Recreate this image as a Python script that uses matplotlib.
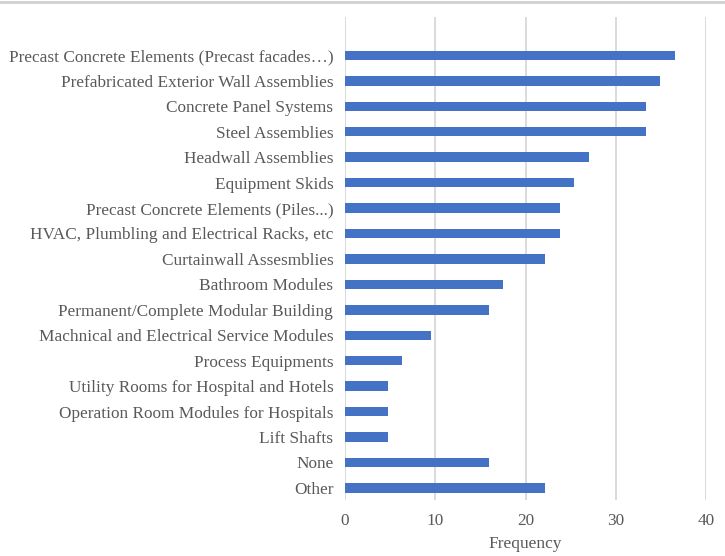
import numpy as np
import matplotlib.pyplot as plt
from matplotlib.lines import Line2D

# Categories listed top to bottom, with frequency (% of respondents)
categories = [
    "Precast Concrete Elements (Precast facades…)",
    "Prefabricated Exterior Wall Assemblies",
    "Concrete Panel Systems",
    "Steel Assemblies",
    "Headwall Assemblies",
    "Equipment Skids",
    "Precast Concrete Elements (Piles...)",
    "HVAC, Plumbling and Electrical Racks, etc",
    "Curtainwall Assesmblies",
    "Bathroom Modules",
    "Permanent/Complete Modular Building",
    "Machnical and Electrical Service Modules",
    "Process Equipments",
    "Utility Rooms for Hospital and Hotels",
    "Operation Room Modules for Hospitals",
    "Lift Shafts",
    "None",
    "Other",
]
frequency = [36.5, 34.9, 33.3, 33.3, 27.0, 25.4, 23.8, 23.8, 22.2,
             17.5, 15.9, 9.5, 6.3, 4.8, 4.8, 4.8, 15.9, 22.2]
x_ticks = [0, 10, 20, 30, 40]

plt.rcParams['font.family'] = ['Liberation Serif', 'DejaVu Serif']
text_color = '#595959'
grid_color = '#D4D4D4'

fig = plt.figure(figsize=(7.25, 5.56), dpi=100)
ax = fig.add_axes([0.476, 0.101, 0.498, 0.868])

y = np.arange(len(categories))
ax.barh(y, frequency, height=0.37, color='#4472C4', zorder=3)

ax.set_yticks(y, labels=categories)
ax.set_ylim(len(categories) - 0.53, -1.5)
ax.set_xlim(0, 40)
ax.set_xticks(x_ticks)
ax.xaxis.grid(True, color=grid_color, linewidth=1.2, zorder=0)

for s in ax.spines.values():
    s.set_visible(False)
ax.tick_params(axis='both', length=0, labelsize=12.4, colors=text_color)
ax.tick_params(axis='y', pad=8.5)
ax.tick_params(axis='x', pad=9.5)
ax.set_xlabel("Frequency", fontsize=12.5, color=text_color, labelpad=5)

# thin frame line along the top edge
fig.add_artist(Line2D([0, 1], [0.997, 0.997], transform=fig.transFigure,
                      color='#D0D0D0', linewidth=2))

fig.savefig('out.png', dpi=100)
